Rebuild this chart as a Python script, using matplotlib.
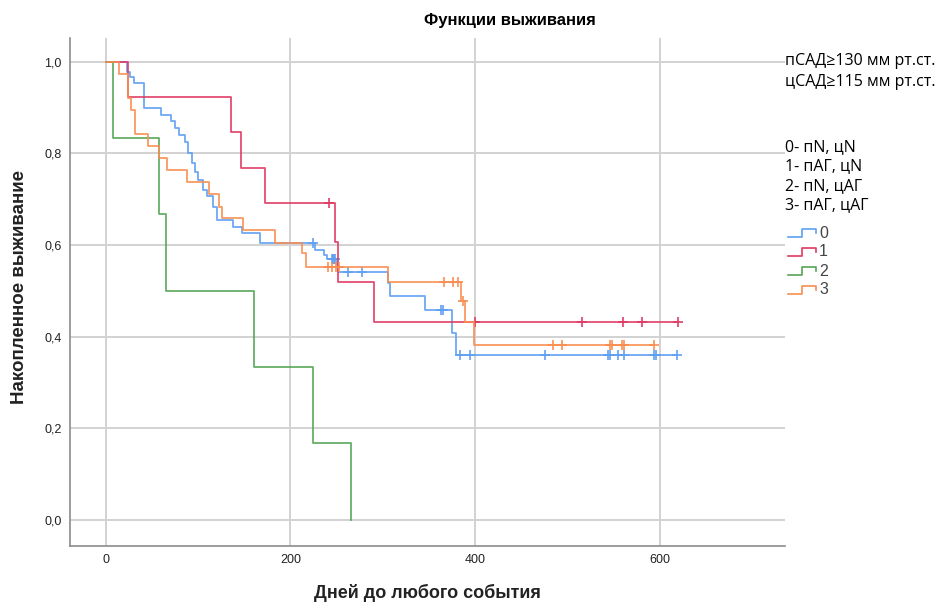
import numpy as np
import matplotlib
matplotlib.use('Agg')
import matplotlib.pyplot as plt
from matplotlib.lines import Line2D
from matplotlib.ticker import FuncFormatter

# ---------------- data ----------------
groups = ['0', '1', '2', '3']

g0_event_days = [23, 26, 30, 41, 60, 70, 75, 79, 86, 89, 93, 96, 100, 105, 109, 116, 120,
                 138, 147, 167, 227, 236, 240, 250, 252, 306, 308, 346, 375, 379]
g0_survival = [0.978, 0.967, 0.953, 0.899, 0.884, 0.870, 0.855, 0.840, 0.826, 0.800, 0.779,
               0.760, 0.742, 0.721, 0.706, 0.684, 0.655, 0.640, 0.626, 0.604, 0.590, 0.579,
               0.569, 0.557, 0.542, 0.517, 0.488, 0.4585, 0.408, 0.360]
g0_censored_days = [224, 245, 246, 247, 248, 262, 278, 363, 365, 384, 395, 476, 544, 546,
                    555, 562, 594, 596, 619]
g0_last_day = 619

g1_event_days = [24, 135, 146, 172, 248, 251, 290]
g1_survival = [0.923, 0.846, 0.769, 0.692, 0.606, 0.519, 0.433]
g1_censored_days = [242, 400, 516, 560, 581, 620]
g1_last_day = 620

g2_event_days = [8, 58, 65, 160, 224, 266]
g2_survival = [0.833, 0.667, 0.500, 0.333, 0.167, 0.0]
g2_censored_days = []
g2_last_day = 266

g3_event_days = [14, 24, 27, 31, 46, 57, 66, 88, 112, 122, 126, 149, 183, 213, 217, 306,
                 385, 389, 399]
g3_survival = [0.974, 0.921, 0.895, 0.842, 0.816, 0.789, 0.763, 0.737, 0.711, 0.684, 0.658,
               0.632, 0.605, 0.582, 0.553, 0.519, 0.477, 0.433, 0.381]
g3_censored_days = [241, 245, 249, 253, 366, 376, 382, 387, 484, 494, 546, 548, 559, 561, 594]
g3_last_day = 594

y_ticks = [0.0, 0.2, 0.4, 0.6, 0.8, 1.0]
x_ticks = [0, 200, 400, 600]

title = 'Функции выживания'
x_label = 'Дней до любого события'
y_label = 'Накопленное выживание'
note_lines = ['пСАД≥130 мм рт.ст.', 'цСАД≥115 мм рт.ст.']
group_lines = ['0- пN, цN', '1- пАГ, цN', '2- пN, цАГ', '3- пАГ, цАГ']

colors = ['#5f9ff2', '#e03a62', '#56a456', '#f98d50']

series = [
    (g0_event_days, g0_survival, g0_censored_days, g0_last_day),
    (g1_event_days, g1_survival, g1_censored_days, g1_last_day),
    (g2_event_days, g2_survival, g2_censored_days, g2_last_day),
    (g3_event_days, g3_survival, g3_censored_days, g3_last_day),
]

# ---------------- figure ----------------
plt.rcParams['font.family'] = ['Liberation Sans', 'DejaVu Sans']
W, H = 948, 603
fig = plt.figure(figsize=(W / 100, H / 100), dpi=100)
ax = fig.add_axes([70 / W, 1 - 546 / H, (785 - 70) / W, (546 - 38) / H])

ax.set_xlim(-39, 736)
ax.set_ylim(-0.057, 1.052)
ax.set_xticks(x_ticks)
ax.set_yticks(y_ticks)
ax.yaxis.set_major_formatter(FuncFormatter(lambda v, p: f'{v:.1f}'.replace('.', ',')))
ax.grid(True, color='#d2d2d2', linewidth=1.4)
ax.set_axisbelow(True)
for s in ['top', 'right']:
    ax.spines[s].set_visible(False)
for s in ['left', 'bottom']:
    ax.spines[s].set_color('#8c8c8c')
    ax.spines[s].set_linewidth(1.2)
ax.tick_params(length=0, labelsize=9, colors='#222222', pad=6)

for (ev, sv, cens, last), col in zip(series, colors):
    t = [0] + list(ev)
    s = [1.0] + list(sv)
    if last > t[-1]:
        t.append(last)
        s.append(s[-1])
    ax.step(t, s, where='post', color=col, linewidth=1.3, alpha=0.9)
    if len(cens):
        idx = np.searchsorted(np.array(t), np.array(cens), side='right') - 1
        cy = np.array(s)[idx]
        ax.plot(cens, cy, linestyle='none', marker='+', markersize=6.5,
                markeredgewidth=1.3, color=col, alpha=0.9)

# ---------------- texts ----------------
fig.text(510 / W, 1 - 20 / H, title, ha='center', va='center', fontsize=12, fontweight='bold')
fig.text(427 / W, 1 - 593 / H, x_label, ha='center', va='center', fontsize=13, fontweight='bold',
         color='#222222')
fig.text(20 / W, 1 - 287 / H, y_label, ha='center', va='center', rotation=90, fontsize=13.5,
         fontweight='bold', color='#222222')

for i, line in enumerate(note_lines):
    fig.text(785 / W, 1 - (61 + 21 * i) / H, line, ha='left', va='center', fontsize=11.5,
             family=['Open Sans', 'DejaVu Sans'])
for i, line in enumerate(group_lines):
    fig.text(785 / W, 1 - (147 + 19.5 * i) / H, line, ha='left', va='center', fontsize=11.5,
             family=['Open Sans', 'DejaVu Sans'])

# legend: step-shaped icons
for i, (g, col) in enumerate(zip(groups, colors)):
    yc = 233 + 19 * i
    lo, hi = 1 - (yc + 4) / H, 1 - (yc - 4) / H
    xs = [788 / W, 802 / W, 802 / W, 816 / W, 816 / W]
    ys = [lo, lo, hi, hi, 1 - (yc) / H]
    fig.add_artist(Line2D(xs, ys, color=col, linewidth=1.2, transform=fig.transFigure))
    fig.text(819 / W, 1 - yc / H, g, ha='left', va='center', fontsize=11.5, color='#444444')

fig.savefig('out.png', dpi=100)
